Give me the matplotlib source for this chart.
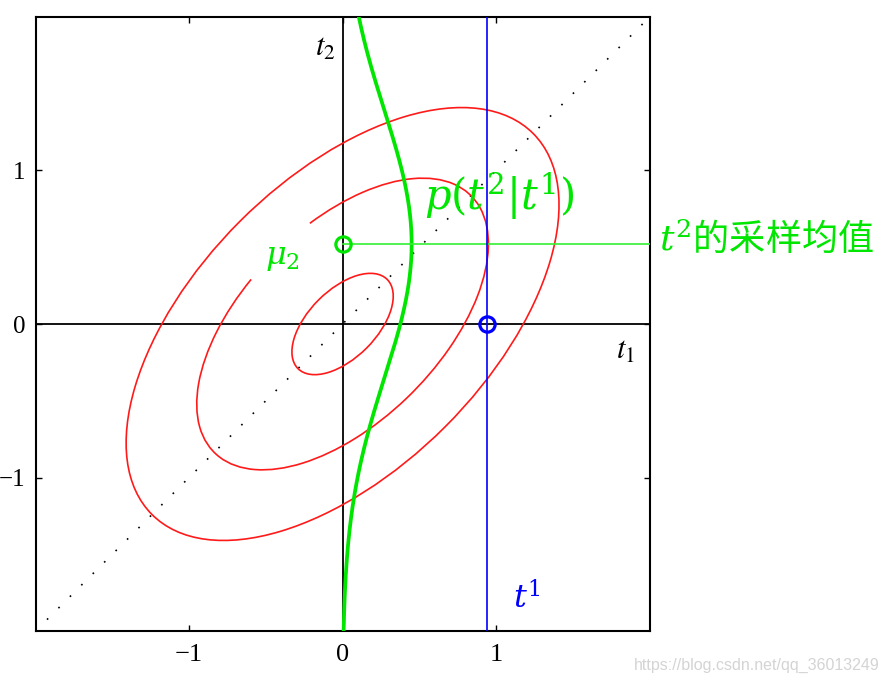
import numpy as np
import matplotlib
matplotlib.use('Agg')
import matplotlib.pyplot as plt
from matplotlib.patches import Ellipse, Arc

plt.rcParams['mathtext.fontset'] = 'stix'

# values
rho = 0.55                      # correlation of t1, t2
radii = [0.33, 0.95, 1.41]      # contour sizes (inner, middle, outer)
middle_gap = [63, 109]          # degrees, missing piece of the middle contour
t1_obs = 0.94                   # observed t1 (blue line)
cond_mean = 0.52                # mean of p(t2|t1)
cond_std = 0.87
cond_peak = 0.45                # height of the drawn density
ticks = [-1, 0, 1]
tick_labels = ['\u22121', '0', '1']

RED = '#ff1a1a'
GREEN = '#00e600'
BLUE = '#0000ff'

fig = plt.figure(figsize=(8.89, 6.85), dpi=100)
ax = fig.add_axes([0.04, 0.0788, 0.6907, 0.8964])
ax.set_xlim(-2, 2)
ax.set_ylim(-2, 2)

# axes lines and diagonal
ax.axhline(0, color='black', lw=1.3, zorder=2)
ax.axvline(0, color='black', lw=1.3, zorder=2)
ax.plot([-2, 2], [-2, 2], color='black', lw=1.2, ls=(0, (1, 8.7)), zorder=1)

# contours of the joint gaussian
w = np.sqrt(1 + rho)
h = np.sqrt(1 - rho)
for i, r in enumerate(radii):
    if i == 1:
        p = Arc((0, 0), 2 * r * w, 2 * r * h, angle=45,
                theta1=middle_gap[1], theta2=middle_gap[0] + 360,
                color=RED, lw=1.2, zorder=3)
    else:
        p = Ellipse((0, 0), 2 * r * w, 2 * r * h, angle=45, fill=False,
                    edgecolor=RED, lw=1.2, zorder=3)
    ax.add_patch(p)

# conditional density p(t2|t1), drawn sideways
yy = np.linspace(-2, 2, 400)
xx = cond_peak * np.exp(-(yy - cond_mean) ** 2 / (2 * cond_std ** 2))
ax.plot(xx, yy, color=GREEN, lw=2.7, zorder=4)

# observed t1 and the sample mean of t2
ax.axvline(t1_obs, color=BLUE, lw=1.2, zorder=6)
ax.plot([0, 2], [cond_mean, cond_mean], color='#33f033', lw=1.2, zorder=4)
ax.plot([0], [cond_mean], 'o', ms=11, mfc='none', mec=GREEN, mew=2.3, zorder=5)
ax.plot([t1_obs], [0], 'o', ms=11, mfc='none', mec=BLUE, mew=2.3, zorder=5)

# labels
ax.text(-0.11, 1.80, r'$t_2$', fontsize=22, ha='center', va='center')
ax.text(1.84, -0.17, r'$t_1$', fontsize=22, ha='center', va='center')
ax.text(-0.39, 0.43, r'$\mu_2$', fontsize=23, color=GREEN, ha='center',
        va='center', math_fontfamily='dejavuserif')
ax.text(1.02, 0.83, r'$p(t^2|t^1)$', fontsize=30, color=GREEN, ha='center',
        va='center', math_fontfamily='dejavuserif', zorder=5)
ax.text(1.2, -1.79, r'$t^1$', fontsize=23, color=BLUE, ha='center', va='center',
        math_fontfamily='dejavuserif')
ax.text(2.06, 0.55, r'$t^2$的采样均值', fontsize=26, color=GREEN, ha='left',
        va='center', family=['Noto Sans CJK SC', 'DejaVu Sans'],
        math_fontfamily='dejavuserif', clip_on=False)

ax.set_xticks(ticks)
ax.set_yticks(ticks)
ax.set_xticklabels(tick_labels, family='Liberation Serif', fontsize=19)
ax.set_yticklabels(tick_labels, family='Liberation Serif', fontsize=18)
ax.tick_params(direction='in', length=4, width=1, top=True, right=True)
ax.tick_params(axis='x', pad=9)
ax.tick_params(axis='y', pad=7)
for s in ax.spines.values():
    s.set_linewidth(1.5)

fig.text(0.99, 0.029, 'https://blog.csdn.net/qq_36013249', ha='right', va='center',
         fontsize=11.5, color='#d4d4d4', family='Liberation Sans')

fig.savefig('out.png', dpi=100)
